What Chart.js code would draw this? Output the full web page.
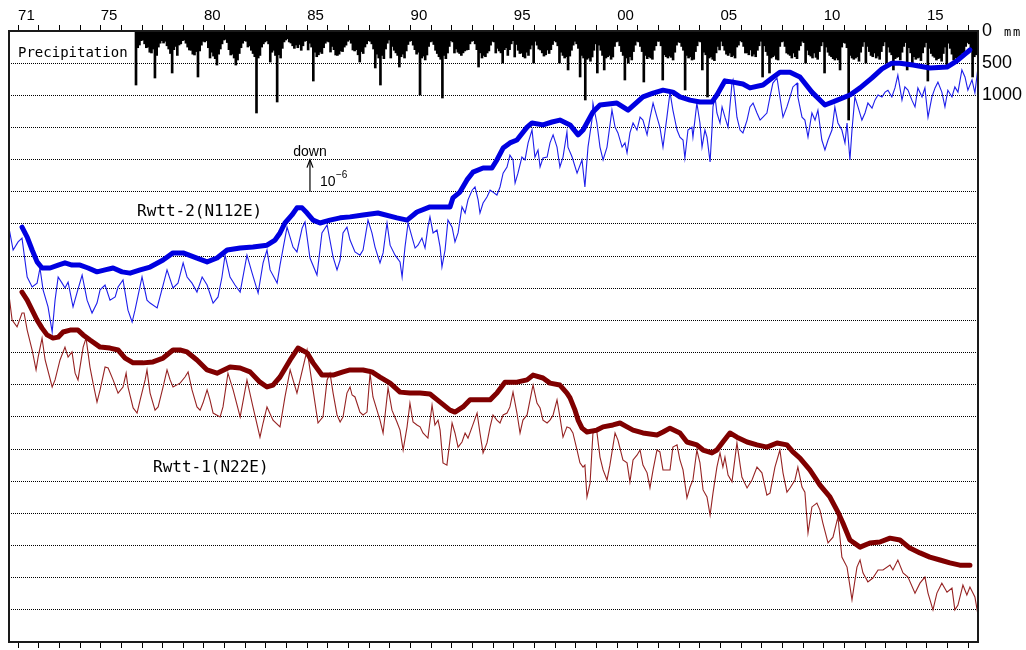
<!DOCTYPE html>
<html>
<head>
<meta charset="utf-8">
<script src="https://cdn.jsdelivr.net/npm/chart.js@4.4.1/dist/chart.umd.min.js"></script>
<style>
html,body{margin:0;padding:0;background:#fff;overflow:hidden;}
#wrap{width:1026px;height:670px;position:relative;}
</style>
</head>
<body>
<div id="wrap"><canvas id="c"></canvas></div>
<script>
// ---- DATA (years as decimal years, tilt in 10^-6 rad, "down" is up) ----
const rwtt2Raw = [[1970.56,12.87],[1970.76,12.19],[1971.00,12.44],[1971.19,12.56],[1971.44,11.35],[1971.68,11.04],[1971.92,11.16],[1972.06,11.63],[1972.21,10.95],[1972.45,10.42],[1972.65,9.64],[1972.79,10.63],[1972.94,11.35],[1973.13,11.16],[1973.27,11.01],[1973.42,11.19],[1973.66,10.42],[1973.86,10.88],[1974.10,11.41],[1974.34,10.63],[1974.58,10.23],[1974.82,10.54],[1974.97,10.95],[1975.21,11.10],[1975.45,10.63],[1975.70,10.73],[1975.84,11.04],[1976.08,11.26],[1976.32,10.32],[1976.52,9.95],[1976.66,10.32],[1977.00,11.35],[1977.24,10.63],[1977.39,10.54],[1977.73,10.39],[1977.87,10.73],[1978.02,11.10],[1978.21,11.57],[1978.50,11.01],[1978.74,11.16],[1978.99,11.79],[1979.18,11.35],[1979.42,11.16],[1979.66,10.88],[1979.91,11.35],[1980.15,11.10],[1980.44,10.54],[1980.68,10.73],[1980.87,11.35],[1981.02,12.03],[1981.26,11.35],[1981.50,11.10],[1981.75,10.88],[1982.08,12.03],[1982.33,11.47],[1982.62,10.85],[1982.86,11.79],[1983.05,12.19],[1983.20,11.57],[1983.54,11.16],[1983.68,11.72],[1984.02,12.90],[1984.31,12.28],[1984.50,12.13],[1984.75,12.87],[1984.89,13.06],[1985.13,11.94],[1985.47,11.41],[1985.71,12.72],[1985.96,12.97],
[1986.25,11.97],[1986.44,11.57],[1986.59,11.88],[1986.73,12.72],[1986.92,12.90],[1987.07,12.50],[1987.31,12.13],[1987.55,12.03],[1987.70,12.19],[1987.94,13.12],[1988.13,12.72],[1988.28,12.28],[1988.52,11.79],[1988.67,12.10],[1988.86,13.03],[1989.01,12.34],[1989.25,12.03],[1989.49,11.82],[1989.59,11.35],[1989.73,12.28],[1989.88,13.03],[1990.07,12.59],[1990.22,12.25],[1990.36,12.34],[1990.55,12.56],[1990.70,12.25],[1990.84,12.90],[1990.94,13.22],[1991.09,12.72],[1991.28,12.81],[1991.43,12.28],[1991.52,11.66],[1991.67,12.19],[1991.81,13.12],[1992.01,12.90],[1992.15,12.44],[1992.30,12.72],[1992.49,13.53],[1992.64,13.34],[1992.78,13.75],[1992.98,14.05],[1993.12,14.15],[1993.27,13.75],[1993.36,13.34],[1993.51,13.65],[1993.70,13.84],[1993.85,14.05],[1993.99,13.99],[1994.18,13.90],[1994.33,14.15],[1994.48,14.58],[1994.67,14.77],[1994.81,15.14],[1994.96,14.99],[1995.06,14.27],[1995.20,14.58],[1995.39,15.08],[1995.54,14.99],[1995.69,15.52],[1995.88,15.92],[1996.02,15.08],[1996.17,15.30],[1996.27,14.77],[1996.41,15.05],[1996.61,15.08],[1996.75,15.52],[1996.90,15.77],[1997.09,15.39],[1997.23,14.77],[1997.38,15.08],[1997.57,15.86],[1997.62,15.39],[1997.82,15.08],[1998.06,14.58],[1998.30,14.99],[1998.44,14.15],[1998.59,15.39],[1998.78,16.23],[1998.83,16.76],[1999.02,16.14],[1999.17,15.39],[1999.32,14.99],[1999.51,15.39],[1999.75,16.54],[1999.90,16.01],[2000.04,15.83],[2000.24,15.39],[2000.38,15.52],[2000.48,15.21],[2000.62,15.83],[2000.77,16.14],[2000.96,15.92],[2001.11,16.32],[2001.25,16.23],[2001.45,15.77],[2001.59,16.29],[2001.74,16.76],[2001.93,16.32],[2002.07,16.01],[2002.22,15.39],[2002.41,16.32],
[2002.56,17.10],[2002.70,16.54],[2002.90,15.92],[2003.04,15.70],[2003.19,15.61],[2003.28,15.05],[2003.43,15.92],[2003.62,16.01],[2003.67,15.70],[2003.86,16.76],[2004.01,16.14],[2004.11,15.39],[2004.25,15.92],[2004.35,15.70],[2004.50,14.93],[2004.59,15.92],[2004.64,16.64],[2004.74,16.95],[2004.83,16.45],[2004.98,16.14],[2005.08,16.64],[2005.22,16.32],[2005.37,16.01],[2005.56,17.38],[2005.61,17.48],[2005.70,16.95],[2005.80,16.32],[2005.95,15.92],[2006.09,15.83],[2006.29,16.23],[2006.43,16.64],[2006.58,16.76],[2006.77,16.45],[2006.92,16.23],[2007.06,16.32],[2007.25,16.45],[2007.40,16.95],[2007.54,17.38],[2007.74,17.54],[2007.88,16.95],[2008.03,16.32],[2008.22,16.64],[2008.37,16.95],[2008.51,17.26],[2008.71,17.38],[2008.75,16.95],[2008.95,16.32],[2009.09,16.23],[2009.24,15.70],[2009.43,16.45],[2009.58,16.23],[2009.72,16.54],[2009.91,15.61],[2010.06,15.30],[2010.21,15.61],[2010.40,15.92],[2010.54,16.64],[2010.69,16.14],[2010.88,15.92],[2011.03,15.52],[2011.13,16.14],[2011.27,14.99],[2011.37,15.92],[2011.51,16.95],[2011.66,16.64],[2011.85,16.23],[2012.00,16.45],[2012.14,16.76],[2012.34,16.60],[2012.48,16.85],[2012.63,17.01],[2012.82,16.95],[2012.97,17.10],[2013.11,17.16],[2013.30,16.95],[2013.45,17.23],[2013.59,17.63],[2013.79,16.85],[2013.93,17.26],[2014.08,17.16],[2014.27,16.85],[2014.42,16.64],[2014.56,17.23],[2014.76,16.95],[2014.90,17.23],[2015.05,16.32],[2015.24,16.95],[2015.39,17.23],[2015.53,17.41],[2015.72,17.10],[2015.87,16.64],[2016.01,17.16],[2016.21,16.95],[2016.35,17.26],[2016.50,17.10],[2016.69,17.79],[2016.84,17.57],[2016.98,17.16],[2017.18,17.48],[2017.32,17.07],[2017.47,17.88]];

const rwtt2Trend = [[1971.19,12.90],[1971.44,12.59],[1971.68,12.19],[1971.92,11.82],[1972.16,11.63],[1972.55,11.63],[1972.94,11.72],[1973.27,11.79],[1973.61,11.72],[1974.00,11.72],[1974.39,11.63],[1974.82,11.51],[1975.21,11.57],[1975.60,11.63],[1976.03,11.51],[1976.42,11.47],[1976.91,11.57],[1977.39,11.66],[1978.02,11.88],[1978.50,12.10],[1978.99,12.10],[1979.66,11.94],[1980.15,11.82],[1980.63,11.94],[1981.12,12.19],[1981.75,12.25],[1982.37,12.28],[1983.05,12.34],[1983.44,12.50],[1983.68,12.72],[1983.92,13.03],[1984.26,13.28],[1984.50,13.50],[1984.75,13.50],[1984.99,13.34],[1985.28,13.12],[1985.62,13.03],[1986.10,13.12],[1986.59,13.19],[1987.07,13.22],[1987.70,13.28],[1988.42,13.34],[1989.34,13.19],[1989.83,13.12],[1990.31,13.37],[1990.94,13.53],[1991.91,13.53],[1992.05,13.81],[1992.39,13.99],[1992.73,14.37],[1993.02,14.61],[1993.51,14.74],[1993.94,14.74],[1994.18,14.99],[1994.48,15.36],[1994.81,15.52],[1995.15,15.61],[1995.64,16.01],[1995.88,16.14],[1996.41,16.08],[1996.85,16.17],[1997.23,16.23],[1997.72,16.08],[1998.11,15.77],[1998.35,15.92],[1998.83,16.48],[1999.17,16.70],[1999.99,16.76],[2000.53,16.54],[2001.25,16.95],[2001.74,17.07],[2002.22,17.16],[2002.70,17.10],[2003.04,16.95],[2003.53,16.85],[2004.01,16.79],[2004.59,16.79],[2004.83,17.01],[2005.22,17.45],[2005.61,17.41],[2006.09,17.35],[2006.43,17.23],[2007.06,17.32],[2007.50,17.54],[2007.88,17.72],[2008.37,17.72],[2008.85,17.57],[2009.43,17.10],[2010.06,16.70],[2010.54,16.82],[2011.27,17.01],[2011.76,17.23],[2012.34,17.54],[2012.82,17.82],[2013.30,18.00],[2013.69,18.00],[2014.32,17.94],[2015.14,17.85],[2015.97,17.88],[2016.45,18.07],[2016.84,18.28],[2017.08,18.41]];

const rwtt1Raw = [[1970.56,10.79],[1970.71,10.01],[1970.95,9.80],[1971.19,10.23],[1971.29,10.23],[1971.44,9.70],[1971.68,9.08],[1971.87,8.46],[1971.97,8.86],[1972.16,9.45],[1972.31,8.77],[1972.65,7.93],[1972.79,8.15],[1973.03,8.77],[1973.27,9.17],[1973.42,8.86],[1973.61,9.02],[1973.76,8.36],[1973.90,8.15],[1974.15,9.17],[1974.29,9.45],[1974.48,8.55],[1974.63,8.05],[1974.82,7.46],[1974.97,7.84],[1975.21,8.55],[1975.36,8.52],[1975.60,8.15],[1975.84,7.74],[1976.08,7.93],[1976.23,8.36],[1976.32,7.93],[1976.57,7.28],[1976.76,7.12],[1976.91,7.53],[1977.15,8.15],[1977.24,8.46],[1977.39,7.74],[1977.63,7.21],[1977.78,7.31],[1978.02,7.93],[1978.21,8.46],[1978.36,8.15],[1978.50,7.93],[1978.84,8.05],[1979.08,8.24],[1979.23,8.40],[1979.42,7.84],[1979.66,7.31],[1979.81,7.21],[1979.95,7.43],[1980.15,7.84],[1980.29,7.53],[1980.44,7.12],[1980.78,7.00],[1980.92,7.31],[1981.16,8.36],[1981.41,7.84],[1981.75,7.00],[1982.08,8.15],[1982.37,7.31],[1982.71,6.37],[1982.86,6.81],[1983.05,7.31],[1983.34,6.90],[1983.68,6.69],[1983.92,7.62],[1984.17,8.46],[1984.31,8.15],[1984.50,7.74],[1984.65,8.15],[1984.99,9.08],[1985.23,8.05],[1985.52,6.81],[1985.76,7.00],[1985.96,8.15],
[1986.10,8.36],[1986.25,7.74],[1986.44,7.06],[1986.59,6.84],[1986.73,7.00],[1986.92,7.74],[1987.07,7.93],[1987.17,7.68],[1987.31,7.62],[1987.55,7.15],[1987.70,7.06],[1987.89,7.15],[1988.04,8.36],[1988.18,7.62],[1988.52,6.90],[1988.67,6.50],[1988.91,7.90],[1989.10,7.21],[1989.34,6.84],[1989.49,6.59],[1989.64,5.97],[1989.83,6.69],[1989.97,7.43],[1990.12,6.84],[1990.31,6.75],[1990.46,6.69],[1990.60,6.50],[1990.84,6.34],[1991.04,7.37],[1991.18,6.75],[1991.33,6.90],[1991.43,6.59],[1991.57,5.57],[1991.76,5.50],[1992.01,6.81],[1992.15,6.50],[1992.30,6.06],[1992.49,6.22],[1992.64,6.50],[1992.78,6.34],[1992.98,6.69],[1993.22,7.12],[1993.36,6.50],[1993.51,5.88],[1993.70,6.19],[1993.85,6.69],[1993.99,7.06],[1994.18,6.90],[1994.33,6.81],[1994.48,7.06],[1994.67,7.12],[1994.81,7.31],[1994.96,7.77],[1995.15,7.12],[1995.30,6.50],[1995.44,6.90],[1995.64,7.06],[1995.88,7.84],[1995.93,7.99],[1996.12,7.43],[1996.27,7.28],[1996.41,6.90],[1996.61,6.81],[1996.75,6.90],[1996.90,7.06],[1997.09,7.53],[1997.23,7.00],[1997.38,6.37],[1997.57,6.69],[1997.72,6.65],[1997.86,6.50],[1998.06,5.97],[1998.20,5.57],[1998.35,5.44],[1998.44,5.50],[1998.54,4.51],[1998.69,4.94],[1998.83,6.50],[1999.02,6.53],[1999.17,5.75],[1999.32,5.35],[1999.51,5.04],[1999.65,5.50],[1999.90,6.50],[2000.04,6.28],[2000.28,5.66],[2000.48,5.57],[2000.62,4.98],[2000.77,5.66],[2000.96,5.81],[2001.11,5.97],[2001.25,5.50],[2001.45,5.26],[2001.59,4.79],[2001.74,5.35],[2001.93,5.97],[2002.07,5.91],[2002.22,5.35],[2002.41,5.35],
[2002.56,5.35],[2002.70,6.06],[2002.90,6.13],[2003.04,5.66],[2003.19,5.35],[2003.38,4.48],[2003.53,4.82],[2003.67,5.04],[2003.86,5.97],[2004.01,5.57],[2004.16,4.73],[2004.35,4.51],[2004.50,3.95],[2004.64,4.63],[2004.83,5.44],[2004.98,5.88],[2005.12,5.44],[2005.22,5.75],[2005.37,5.19],[2005.56,4.98],[2005.80,6.19],[2006.04,5.13],[2006.29,4.79],[2006.53,5.04],[2006.77,5.44],[2007.01,5.26],[2007.25,4.57],[2007.40,4.63],[2007.64,5.44],[2007.88,5.97],[2008.03,5.26],[2008.22,4.66],[2008.37,4.79],[2008.61,5.04],[2008.75,5.44],[2008.95,4.82],[2009.09,4.66],[2009.24,3.39],[2009.43,4.20],[2009.67,4.32],[2009.82,4.10],[2009.96,3.70],[2010.21,3.08],[2010.45,3.26],[2010.69,3.89],[2010.88,2.64],[2011.13,2.33],[2011.37,1.31],[2011.61,2.33],[2011.76,2.55],[2011.90,2.15],[2012.14,1.87],[2012.38,1.99],[2012.63,2.24],[2012.87,2.24],[2013.21,2.39],[2013.35,2.24],[2013.59,2.55],[2013.84,2.15],[2014.08,2.02],[2014.42,1.52],[2014.66,1.83],[2014.90,2.02],[2015.05,1.52],[2015.29,1.00],[2015.48,1.52],[2015.72,1.83],[2015.97,1.55],[2016.21,1.68],[2016.35,1.00],[2016.50,1.15],[2016.74,1.77],[2016.93,1.46],[2017.08,1.71],[2017.32,1.40],[2017.47,0.84]];

const rwtt1Trend = [[1971.19,10.88],[1971.44,10.63],[1971.68,10.32],[1971.92,10.01],[1972.16,9.76],[1972.40,9.55],[1972.69,9.45],[1972.94,9.48],[1973.18,9.64],[1973.52,9.70],[1973.90,9.70],[1974.15,9.55],[1974.48,9.39],[1974.97,9.17],[1975.45,9.14],[1975.84,9.08],[1976.18,8.83],[1976.57,8.68],[1977.05,8.68],[1977.53,8.71],[1978.02,8.83],[1978.50,9.08],[1978.84,9.08],[1979.18,9.02],[1979.66,8.77],[1980.15,8.46],[1980.63,8.36],[1981.26,8.55],[1981.75,8.52],[1982.23,8.40],[1982.71,8.08],[1983.05,7.93],[1983.34,7.99],[1983.68,8.24],[1984.17,8.77],[1984.55,9.14],[1984.99,8.99],[1985.28,8.68],[1985.71,8.30],[1986.25,8.30],[1986.73,8.40],[1987.07,8.46],[1987.70,8.46],[1988.13,8.40],[1988.52,8.24],[1989.01,8.05],[1989.49,7.77],[1989.97,7.74],[1990.46,7.74],[1990.94,7.71],[1991.43,7.46],[1991.91,7.21],[1992.15,7.15],[1992.54,7.31],[1992.88,7.53],[1993.22,7.53],[1993.85,7.53],[1994.18,7.74],[1994.57,8.08],[1995.15,8.08],[1995.64,8.15],[1995.93,8.30],[1996.41,8.21],[1996.75,8.05],[1997.23,7.99],[1997.57,7.74],[1997.72,7.59],[1997.96,7.21],[1998.11,6.90],[1998.30,6.65],[1998.54,6.53],[1999.02,6.59],[1999.32,6.69],[1999.80,6.75],[2000.14,6.81],[2000.48,6.69],[2000.77,6.59],[2001.25,6.50],[2001.93,6.44],[2002.22,6.53],[2002.56,6.65],[2003.04,6.50],[2003.38,6.22],[2003.86,6.13],[2004.16,5.97],[2004.59,5.88],[2004.83,5.97],[2005.12,6.22],[2005.46,6.50],[2005.80,6.37],[2006.29,6.22],[2006.77,6.13],[2007.25,6.06],[2007.74,6.19],[2008.22,6.13],[2008.51,5.91],[2008.85,5.72],[2009.33,5.35],[2009.82,4.88],[2010.30,4.51],[2010.69,4.04],[2010.93,3.70],[2011.27,3.17],[2011.76,2.95],[2012.24,3.08],[2012.72,3.11],[2013.21,3.23],[2013.69,3.17],[2014.17,2.92],[2014.66,2.77],[2015.14,2.64],[2015.63,2.55],[2016.11,2.46],[2016.59,2.39],[2017.08,2.39]];

// monthly precipitation (mm), starting September 1976
const precipStartYear = 1976;
const precipStartMonth = 9;
const precipMonthly = [
 840,260,218,150,
 140,200,260,249,330,342,280,731,380,250,190,150,
 187,160,230,280,350,653,290,240,380,218,200,150,
 140,190,250,295,300,360,373,320,715,310,220,160,
 170,150,260,420,330,390,430,529,360,280,200,140,
 130,180,290,373,360,420,529,451,350,260,190,150,
 160,249,230,300,350,400,1275,420,380,250,200,170,
 150,200,482,330,300,380,1104,370,420,270,170,140,
 120,170,187,230,270,218,260,210,300,230,160,150,
 295,190,250,778,330,400,370,327,350,260,190,160,
 170,327,240,290,373,380,360,310,320,250,220,160,
 140,190,295,310,290,370,482,320,350,249,200,150,
 160,200,280,575,360,420,840,380,430,280,190,140,
 420,240,300,340,380,560,400,360,420,310,210,160,
 150,220,290,360,330,995,420,390,450,373,240,170,
 160,210,300,350,400,440,1042,380,430,342,240,150,
 170,342,280,330,350,380,340,310,295,290,200,160,
 150,200,290,560,340,420,380,400,342,310,220,160,
 170,342,270,310,340,498,290,260,380,290,200,150,
 404,210,300,350,342,400,420,330,380,280,220,498,
 160,220,280,295,340,390,370,295,350,290,210,150,
 170,230,498,330,380,420,400,606,390,300,220,160,
 200,270,715,380,420,1073,440,420,470,404,300,200,
 653,220,300,380,606,420,400,380,440,404,240,170,
 160,230,320,380,762,420,498,400,450,320,220,160,
 170,240,320,793,380,430,400,420,440,300,230,160,
 160,230,762,370,400,420,390,410,451,330,220,170,
 180,240,300,917,380,420,400,451,440,320,230,160,
 170,606,330,370,1026,420,400,440,460,340,240,295,
 160,230,300,360,380,342,400,380,420,249,220,150,
 170,240,342,340,370,295,390,360,400,300,230,160,
 715,230,320,380,653,420,400,380,440,451,240,170,
 160,240,342,360,380,420,342,400,430,300,230,160,
 180,498,300,370,390,420,342,410,440,320,230,170,
 653,250,330,380,400,430,451,420,450,606,250,180,
 190,260,1384,380,420,440,420,400,470,330,240,170,
 498,240,320,380,400,342,420,390,440,320,230,170,
 498,250,330,370,606,430,410,400,450,330,240,180,
 606,260,340,498,400,440,420,410,460,340,250,180,
 778,270,350,390,410,451,430,420,470,350,250,560,
 190,270,360,451,420,440,420,410,342,340,240,180,
 200,280,715,400,370
];

const xMin = 1970.56, xMax = 2017.47;
const tickYears = []; for (let y = 1971; y <= 2017; y++) tickYears.push(y);
const tiltGrid = []; for (let g = 0; g <= 19; g++) tiltGrid.push(g);
const precipTicks = [0, 500, 1000];
const precipMax = 9500;

// ---- build ----
const toXY = arr => arr.map(([x, y]) => ({x, y}));
const precipData = precipMonthly.map((v, i) => ({
  x: precipStartYear + (precipStartMonth - 1 + i + 0.5) / 12, y: v
}));
function yearLabel(v) {
  const y = Math.round(v);
  if (y === 1971 || y % 5 === 0) return String(y % 100).padStart(2, '0');
  return '';
}
const numFamily = "'Liberation Sans', Arial, sans-serif";
function xAxis(pos) {
  return {
    type: 'linear', position: pos, min: xMin, max: xMax, offset: false,
    afterBuildTicks: s => { s.ticks = tickYears.map(v => ({value: v})); },
    afterFit: s => { s.height = pos === 'top' ? 31 : 28; },
    grid: {drawOnChartArea: false, drawTicks: true, tickLength: 6, color: '#000', lineWidth: 1, offset: false},
    border: {display: false},
    ticks: {callback: yearLabel, autoSkip: false, maxRotation: 0, minRotation: 0, align: 'start',
            padding: 0, color: '#000', font: {family: numFamily, size: 15}}
  };
}

const annot = {
  id: 'annot',
  afterDraw(chart) {
    const ctx = chart.ctx, a = chart.chartArea;
    const xs = chart.scales.x, ys = chart.scales.y;
    ctx.save();
    ctx.strokeStyle = '#1a1a1a'; ctx.lineWidth = 2;
    ctx.strokeRect(a.left, a.top, a.right - a.left, a.bottom - a.top);
    ctx.fillStyle = '#000';
    ctx.textBaseline = 'alphabetic'; ctx.textAlign = 'left';
    ctx.font = "14px 'DejaVu Sans Mono', monospace";
    ctx.fillText('Precipitation', 18, 57);
    ctx.font = "16px 'DejaVu Sans Mono', monospace";
    ctx.fillText('Rwtt-2(N112E)', 137, 216);
    ctx.fillText('Rwtt-1(N22E)', 153, 472);
    // scale arrow: 1e-6 rad, "down" upward
    const ax = xs.getPixelForValue(1985.13);
    const y0 = ys.getPixelForValue(14), y1 = ys.getPixelForValue(15);
    ctx.strokeStyle = '#000'; ctx.lineWidth = 1.2;
    ctx.beginPath(); ctx.moveTo(ax, y0); ctx.lineTo(ax, y1 + 1); ctx.stroke();
    ctx.beginPath(); ctx.moveTo(ax - 3, y1 + 8); ctx.lineTo(ax, y1); ctx.lineTo(ax + 3, y1 + 8); ctx.stroke();
    ctx.font = "14px 'Liberation Sans', Arial, sans-serif";
    ctx.textAlign = 'center';
    ctx.fillText('down', ax, y1 - 4);
    ctx.textAlign = 'left';
    ctx.fillText('10', ax + 10, y0 - 6);
    ctx.font = "10px 'Liberation Sans', Arial, sans-serif";
    ctx.fillText('\u22126', ax + 26, y0 - 14);
    ctx.font = "12px 'DejaVu Sans Mono', monospace";
    ctx.fillText('m', a.right + 26, a.top + 5);
    ctx.fillText('m', a.right + 35, a.top + 5);
    ctx.restore();
  }
};

new Chart(document.getElementById('c'), {
  type: 'line',
  data: {
    datasets: [
      {label: 'Rwtt-2 trend', data: toXY(rwtt2Trend), borderColor: 'rgb(0,0,225)', borderWidth: 5,
       pointRadius: 0, borderJoinStyle: 'round', borderCapStyle: 'round', order: 1, yAxisID: 'y'},
      {label: 'Rwtt-1 trend', data: toXY(rwtt1Trend), borderColor: 'rgb(128,0,0)', borderWidth: 5,
       pointRadius: 0, borderJoinStyle: 'round', borderCapStyle: 'round', order: 2, yAxisID: 'y'},
      {label: 'Rwtt-2', data: toXY(rwtt2Raw), borderColor: 'rgb(30,30,235)', borderWidth: 1.1,
       pointRadius: 0, order: 3, yAxisID: 'y'},
      {label: 'Rwtt-1', data: toXY(rwtt1Raw), borderColor: 'rgb(150,35,35)', borderWidth: 1.1,
       pointRadius: 0, order: 4, yAxisID: 'y'},
      {type: 'bar', label: 'Precipitation', data: precipData, backgroundColor: '#000', borderWidth: 0,
       barThickness: 2, order: 5, yAxisID: 'yP'}
    ]
  },
  options: {
    responsive: true, maintainAspectRatio: false, animation: false, events: [],
    layout: {padding: 0},
    plugins: {legend: {display: false}, tooltip: {enabled: false}, title: {display: false}},
    scales: {
      x: xAxis('bottom'),
      xTop: xAxis('top'),
      y: {
        type: 'linear', position: 'left', min: 0, max: 19,
        afterBuildTicks: s => { s.ticks = tiltGrid.map(v => ({value: v})); },
        afterFit: s => { s.width = 9; },
        ticks: {display: false},
        grid: {color: '#000', lineWidth: 1, drawTicks: false},
        border: {display: false, dash: [1, 1]}
      },
      yP: {
        type: 'linear', position: 'right', reverse: true, min: 0, max: precipMax,
        afterBuildTicks: s => { s.ticks = precipTicks.map(v => ({value: v})); },
        afterFit: s => { s.width = 48; },
        grid: {display: false, drawTicks: false},
        border: {display: false},
        ticks: {color: '#000', padding: 4, callback: v => String(v), font: {family: numFamily, size: 18}}
      }
    }
  },
  plugins: [annot]
});
</script>
</body>
</html>
